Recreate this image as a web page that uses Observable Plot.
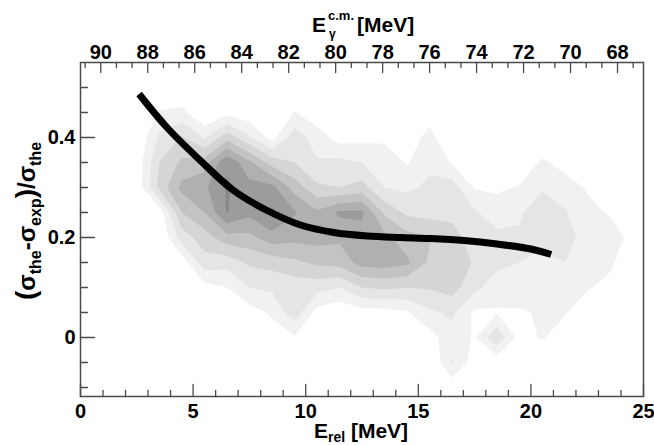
<!DOCTYPE html>
<html><head><meta charset="utf-8">
<script src="https://cdn.jsdelivr.net/npm/d3@7"></script>
<script src="https://cdn.jsdelivr.net/npm/@observablehq/plot@0.6"></script>
<style>
html,body{margin:0;padding:0;background:#fff;}
#chart{width:654px;height:445px;}
</style></head><body><div id="chart"></div>
<script>
// ---- axis ticks ----
const xMajor = [0, 5, 10, 15, 20, 25];
const xMinor = [1,2,3,4,6,7,8,9,11,12,13,14,16,17,18,19,21,22,23,24];
const yMajor = [0, 0.2, 0.4];
const yMinor = [-0.1,-0.05,0.05,0.1,0.15,0.25,0.3,0.35,0.45,0.5];
const topMajor = [90, 88, 86, 84, 82, 80, 78, 76, 74, 72, 70, 68];
// E_gamma(c.m.) -> E_rel mapping
const gammaAt0 = 90, relAtGamma90 = 0.9, relPerGamma = 1.043;
const toRel = g => relAtGamma90 + (gammaAt0 - g) * relPerGamma;
const toGamma = e => gammaAt0 - (e - relAtGamma90) / relPerGamma;
const topMinor = [];
for (const g of topMajor.concat([92])) { for (const f of [2/3, 4/3]) { const r = toRel(g - f); if (r > 0 && r < 25) topMinor.push(r); } }

// ---- density grid (columns E_rel = 0.5 ... 24.5, rows sigma-ratio) ----
const gridE = [0.5,1.5,2.5,3.5,4.5,5.5,6.5,7.5,8.5,9.5,10.5,11.5,12.5,13.5,14.5,15.5,16.5,17.5,18.5,19.5,20.5,21.5,22.5,23.5,24.5];
const gridV = [0.55,0.5,0.45,0.4,0.35,0.3,0.25,0.2,0.15,0.1,0.05,0,-0.05,-0.1];
const r055 = [0,0,0,0,0,0,0,0,0,0,0,0,0,0,0,0,0,0,0,0,0,0,0,0,0];
const r050 = [0,0,0,0,0,0,0,0,0,0,0,0,0,0,0,0,0,0,0,0,0,0,0,0,0];
const r045 = [0,0,0,1.1,1.3,0,0.65,0.3,0,1.05,0.4,0,0,0,0,0.6,0,0,0,0,0,0,0,0,0];
const r040 = [0,0,0.1,2.2,3.1,1.9,3.6,2.2,0.6,2.6,1.5,0.6,0.7,0.8,0.5,1.3,0.2,0,0,0,0,0,0,0,0];
const r035 = [0,0,0.3,3.0,4.2,4.5,6.9,5.2,3.6,3.0,2.1,2.3,2.0,1.6,0.9,1.8,0.9,0.3,0,0.2,1.2,0.6,0.2,0,0];
const r030 = [0,0,0.3,3.3,5.3,5.8,7.1,6.4,6.3,4.6,3.2,3.0,3.4,2.0,1.8,2.2,2.5,0.9,0.8,1.1,1.9,1.5,0.9,0.3,0];
const r025 = [0,0,0.2,0.4,4.0,5.0,7.05,6.3,7.2,6.1,5.2,6.2,6.2,3.8,2.8,2.6,2.8,2.1,1.6,1.9,2.5,2.1,1.3,0.9,0];
const r020 = [0,0,0,0,2.5,3.5,4.6,4.7,5.6,5.3,5.4,5.2,5.6,5.3,4.4,4.1,3.3,2.6,2.2,2.1,2.3,2.3,1.7,1.5,0.7];
const r015 = [0,0,0,0,0.4,2.6,2.4,3.2,3.4,3.8,4.2,4.4,5.4,5.5,5.2,3.8,3.6,2.9,2.3,2.0,1.6,2.0,1.9,1.2,0.3];
const r010 = [0,0,0,0,0,0.6,1.0,2.0,2.2,2.4,2.4,2.0,3.0,3.2,3.0,3.1,3.4,2.3,1.4,1.5,1.3,1.2,1.1,0.7,0];
const r005 = [0,0,0,0,0,0,0.2,0.5,1.2,2.6,0.6,0.2,0.6,0.6,0.9,1.8,2.2,0.8,0.9,0.9,1.1,1.1,0.3,0,0];
const r000 = [0,0,0,0,0,0,0,0,0.3,0.9,0,0,0,0,0,0.6,1.6,0.9,2.8,0.6,1.1,0.4,0,0,0];
const rm05 = [0,0,0,0,0,0,0,0,0,0,0,0,0,0,0,0,2.1,0.4,0.3,0,0.2,0,0,0,0];
const rm10 = [0,0,0,0,0,0,0,0,0,0,0,0,0,0,0,0,0.3,0,0,0,0,0,0,0,0];
const levels = [1, 2, 3, 4, 5, 6, 7];
const grays = ["#f1f1f1", "#e5e5e5", "#d5d5d5", "#c3c3c3", "#b0b0b0", "#9c9c9c", "#888888"];

// ---- fitted curve ----
const curveE = [2.6, 3.84, 5.32, 6.8, 8.29, 9.77, 11.25, 12.74, 14.2, 15.55, 17.04, 18.5, 20.0, 20.9];
const curveV = [0.487, 0.42, 0.354, 0.294, 0.254, 0.225, 0.21, 0.203, 0.2, 0.198, 0.194, 0.187, 0.177, 0.166];

const rowsTopDown = [r055, r050, r045, r040, r035, r030, r025, r020, r015, r010, r005, r000, rm05, rm10];
const flat = rowsTopDown.slice().reverse().flat();
const yDom = [-0.118, 0.55];
const axisColor = "#4a4a4a";
const FONT = "'Liberation Sans', Arial, Helvetica, sans-serif";
const tickShape = {draw(ctx, l) { ctx.moveTo(0, 0); ctx.lineTo(0, -l); }};
const tickMark = (data, xf, yf, len, rot) => Plot.vector(data, {x: xf, y: yf, length: len, rotate: rot, anchor: "start", shape: tickShape, stroke: axisColor, strokeWidth: 1.3});

const plot = Plot.plot({
  width: 654, height: 445,
  marginLeft: 80, marginRight: 11, marginTop: 62, marginBottom: 49,
  x: {domain: [0, 25]},
  y: {domain: yDom},
  color: {type: "ordinal", domain: levels, range: grays},
  style: {fontFamily: FONT, background: "white", color: "black"},
  marks: [
    Plot.contour(flat, {width: gridE.length, height: gridV.length, x1: 0, x2: 25, y1: -0.125, y2: 0.575, fill: Plot.identity, thresholds: levels, stroke: "none"}),
    Plot.line(curveE, {x: curveE, y: curveV, stroke: "black", strokeWidth: 7, curve: "catmull-rom", strokeLinecap: "butt"}),
    Plot.frame({stroke: axisColor, strokeWidth: 1.5}),
    tickMark(xMajor, d => d, () => yDom[0], 12, 0),
    tickMark(xMinor, d => d, () => yDom[0], 6, 0),
    tickMark(yMajor, () => 0, d => d, 14, 90),
    tickMark(yMinor, () => 0, d => d, 7, 90),
    tickMark(topMajor.map(toRel), d => d, () => yDom[1], 10, 180),
    tickMark(topMinor, d => d, () => yDom[1], 5, 180),
    Plot.axisX({ticks: xMajor, tickSize: 0, tickPadding: 7, fontSize: 20, fontWeight: "bold", label: null}),
    Plot.axisX({anchor: "top", ticks: topMajor.map(toRel), tickFormat: d => String(Math.round(toGamma(d))), tickSize: 0, tickPadding: 4, fontSize: 20, fontWeight: "bold", label: null}),
    Plot.axisY({ticks: yMajor, tickFormat: d => d === 0 ? "0" : d.toFixed(1), tickSize: 0, tickPadding: 5, fontSize: 20, fontWeight: "bold", label: null})
  ]
});
document.getElementById("chart").append(plot);

// ---- axis titles with sub/superscripts ----
const svg = d3.select(plot);
const addText = () => svg.append("text").attr("font-family", FONT).attr("font-weight", "bold").attr("fill", "black").attr("text-anchor", "start");

// bottom title
const bt = addText().attr("x", 361).attr("y", 438).attr("text-anchor", "middle").attr("font-size", 21);
bt.append("tspan").text("E");
bt.append("tspan").attr("font-size", 14).attr("dy", 4).text("rel");
bt.append("tspan").attr("dy", -4).text(" [MeV]");

// top title: E with stacked superscript c.m. and subscript gamma, then unit
addText().attr("x", 312).attr("y", 32).attr("font-size", 21).text("E");
addText().attr("x", 328).attr("y", 20).attr("font-size", 13).text("c.m.");
addText().attr("x", 357).attr("y", 32).attr("font-size", 21).text("[MeV]");
addText().attr("x", 329).attr("y", 38).attr("font-size", 12).text("γ");

// y title
const yt = addText().attr("transform", "translate(35,221) rotate(-90)").attr("text-anchor", "middle").attr("font-size", 24);
yt.append("tspan").attr("font-size", 28).text("(");
yt.append("tspan").text("σ");
yt.append("tspan").attr("font-size", 16).attr("dy", 6).text("the");
yt.append("tspan").attr("dy", -6).text("-σ");
yt.append("tspan").attr("font-size", 16).attr("dy", 6).text("exp");
yt.append("tspan").attr("dy", -6).attr("font-size", 28).text(")");
yt.append("tspan").text("/σ");
yt.append("tspan").attr("font-size", 16).attr("dy", 6).text("the");
</script>
</body></html>
